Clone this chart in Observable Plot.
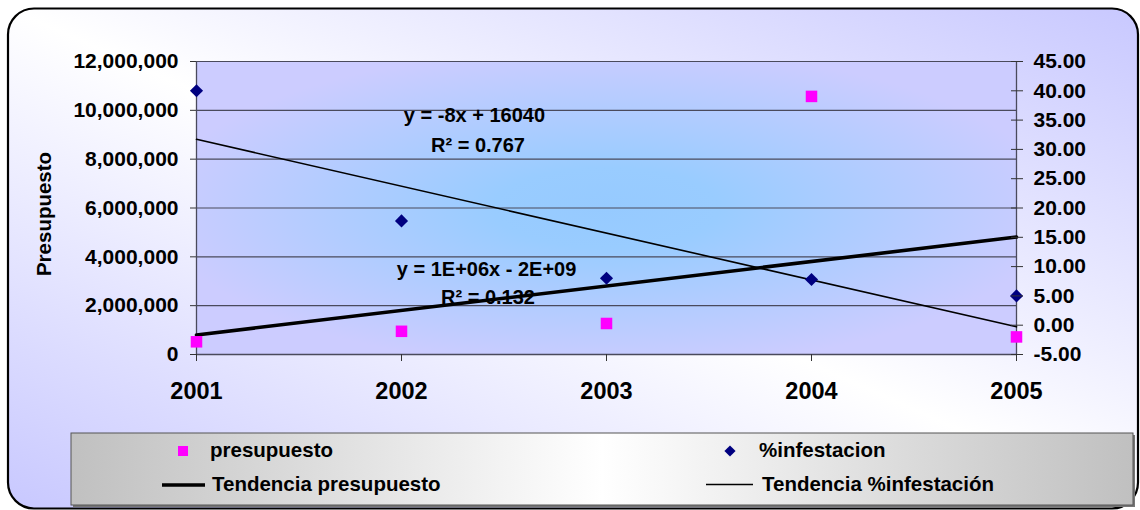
<!DOCTYPE html>
<html>
<head>
<meta charset="utf-8">
<script src="https://cdn.jsdelivr.net/npm/d3@7"></script>
<script src="https://cdn.jsdelivr.net/npm/@observablehq/plot@0.6"></script>
<style>
  html, body { margin: 0; padding: 0; background: #ffffff; }
  #chart { width: 1140px; height: 510px; overflow: hidden; position: relative; }
</style>
</head>
<body>
<div id="chart"></div>
<script>
// ---- data ----
const years = [2001, 2002, 2003, 2004, 2005];
const presupuesto = [520000, 950000, 1270000, 10570000, 720000];
const infestacion = [40.0, 17.8, 8.0, 7.8, 5.0];
const leftTicks = [0, 2000000, 4000000, 6000000, 8000000, 10000000, 12000000];
const rightTicks = [-5, 0, 5, 10, 15, 20, 25, 30, 35, 40, 45];
const trendLabels = ["y = -8x + 16040", "R² = 0.767", "y = 1E+06x - 2E+09", "R² = 0.132"];
const yTitle = "Presupuesto";
const legendLabels = ["presupuesto", "%infestacion", "Tendencia presupuesto", "Tendencia %infestación"];

// ---- layout (positions of the trend-equation labels, in data units) ----
const trendLabelX = [2002.356, 2002.373, 2002.415, 2002.422];
const trendLabelY = [9790000, 8560000, 3480000, 2335000];

const leftMax = 12000000, rightMin = -5, rightMax = 45;
const toLeft = v => (v - rightMin) / (rightMax - rightMin) * leftMax;
const fromLeft = d => d / leftMax * (rightMax - rightMin) + rightMin;

const presData = years.map((year, i) => ({year, value: presupuesto[i]}));
const infData = years.map((year, i) => ({year, value: toLeft(infestacion[i])}));
const labelData = trendLabels.map((text, i) => ({text, x: trendLabelX[i], y: trendLabelY[i]}));

const FONT = "'Liberation Sans', Arial, Helvetica, sans-serif";
const gridColor = "#4a4a5c";

const plot = Plot.plot({
  width: 1140,
  height: 510,
  marginLeft: 196,
  marginRight: 124,
  marginTop: 61,
  marginBottom: 156,
  style: {fontFamily: FONT, background: "transparent", color: "black", overflow: "visible"},
  x: {type: "linear", domain: [2001, 2005]},
  y: {type: "linear", domain: [0, leftMax]},
  marks: [
    Plot.frame({fill: "url(#plotAreaGrad)", stroke: "none"}),
    Plot.gridY(leftTicks, {stroke: gridColor, strokeOpacity: 1, strokeWidth: 1.2}),
    Plot.ruleX([2001, 2005], {stroke: gridColor, strokeWidth: 1.3}),
    Plot.ruleY([0], {stroke: gridColor, strokeWidth: 1.3}),
    Plot.linearRegressionY(infData, {x: "year", y: "value", stroke: "black", strokeWidth: 1.6, ci: 0}),
    Plot.linearRegressionY(presData, {x: "year", y: "value", stroke: "black", strokeWidth: 3.6, ci: 0}),
    Plot.dot(presData, {x: "year", y: "value", symbol: "square", r: 6.5, fill: "#ff00ff", stroke: "none"}),
    Plot.dot(infData, {x: "year", y: "value", symbol: "diamond2", r: 5.9, fill: "#000080", stroke: "none"}),
    Plot.text(labelData, {x: "x", y: "y", text: "text", fontSize: 20, fontWeight: "bold", fill: "black"}),
    Plot.axisY(leftTicks, {anchor: "left", tickSize: 6, tickPadding: 12, tickFormat: d3.format(","),
      fontSize: 21, fontWeight: "bold", label: null, stroke: "#333"}),
    Plot.axisY(rightTicks.map(toLeft), {anchor: "right", tickSize: 12, dx: -6, fill: "none", label: null, stroke: "#333"}),
    Plot.axisY(rightTicks.map(toLeft), {anchor: "right", tickSize: 6, tickPadding: 11, stroke: "none",
      tickFormat: d => fromLeft(d).toFixed(2), fontSize: 21, fontWeight: "bold", label: null}),
    Plot.axisX(years, {anchor: "bottom", tickSize: 7, tickPadding: 21, tickFormat: d => String(d),
      fontSize: 23.5, fontWeight: "bold", label: null, stroke: "#333"})
  ]
});

document.getElementById("chart").appendChild(plot);

// ---- decoration: gradients, outer rounded border, axis title, legend ----
const svg = d3.select(plot);
const defs = svg.insert("defs", ":first-child");

const bg = defs.append("linearGradient").attr("id", "outerGrad")
  .attr("x1", 0).attr("y1", 1).attr("x2", 1).attr("y2", 0);
bg.append("stop").attr("offset", "0%").attr("stop-color", "#c8c8ff");
bg.append("stop").attr("offset", "50%").attr("stop-color", "#ffffff");
bg.append("stop").attr("offset", "100%").attr("stop-color", "#c8c8ff");

const pa = defs.append("radialGradient").attr("id", "plotAreaGrad")
  .attr("cx", "0.5").attr("cy", "0.5").attr("r", "0.55");
pa.append("stop").attr("offset", "0%").attr("stop-color", "#96caff");
pa.append("stop").attr("offset", "25%").attr("stop-color", "#99ccff");
pa.append("stop").attr("offset", "100%").attr("stop-color", "#ccccff");

const lg = defs.append("linearGradient").attr("id", "legendGrad")
  .attr("x1", 0).attr("y1", 0).attr("x2", 1).attr("y2", 0);
lg.append("stop").attr("offset", "0%").attr("stop-color", "#c0c0c0");
lg.append("stop").attr("offset", "50%").attr("stop-color", "#ffffff");
lg.append("stop").attr("offset", "100%").attr("stop-color", "#c0c0c0");

// outer background (inserted behind everything drawn by Plot)
svg.insert("rect", "defs + *")
  .attr("x", 8).attr("y", 8.5).attr("width", 1130).attr("height", 500)
  .attr("rx", 26).attr("ry", 26)
  .attr("fill", "url(#outerGrad)").attr("stroke", "black").attr("stroke-width", 2.2);

// y-axis title
svg.append("text")
  .attr("transform", "translate(51,214) rotate(-90)")
  .attr("text-anchor", "middle")
  .attr("font-family", FONT).attr("font-size", 20.5).attr("font-weight", "bold")
  .attr("fill", "black")
  .text(yTitle);

// legend
const leg = svg.append("g").attr("font-family", FONT).attr("font-size", 20.5).attr("font-weight", "bold")
  .attr("text-anchor", "start");
leg.append("rect").attr("x", 73).attr("y", 435).attr("width", 1062).attr("height", 72).attr("fill", "#777");
leg.append("rect").attr("x", 71).attr("y", 433).attr("width", 1062).attr("height", 72)
  .attr("fill", "url(#legendGrad)").attr("stroke", "#555").attr("stroke-width", 1);

leg.append("rect").attr("x", 178).attr("y", 446).attr("width", 10).attr("height", 10).attr("fill", "#ff00ff");
leg.append("text").attr("x", 210).attr("y", 456.5).attr("text-anchor", "start").attr("fill", "black").text(legendLabels[0]);

leg.append("path").attr("d", d3.symbol(d3.symbolDiamond2, 80)()).attr("transform", "translate(730,451)").attr("fill", "#000080");
leg.append("text").attr("x", 759).attr("y", 456.5).attr("text-anchor", "start").attr("fill", "black").text(legendLabels[1]);

leg.append("line").attr("x1", 162).attr("x2", 205).attr("y1", 485).attr("y2", 485)
  .attr("stroke", "black").attr("stroke-width", 3.6);
leg.append("text").attr("x", 212).attr("y", 491).attr("text-anchor", "start").attr("fill", "black").text(legendLabels[2]);

leg.append("line").attr("x1", 706).attr("x2", 753).attr("y1", 484.5).attr("y2", 484.5)
  .attr("stroke", "black").attr("stroke-width", 1.6);
leg.append("text").attr("x", 762).attr("y", 491).attr("text-anchor", "start").attr("fill", "black").text(legendLabels[3]);
</script>
</body>
</html>
